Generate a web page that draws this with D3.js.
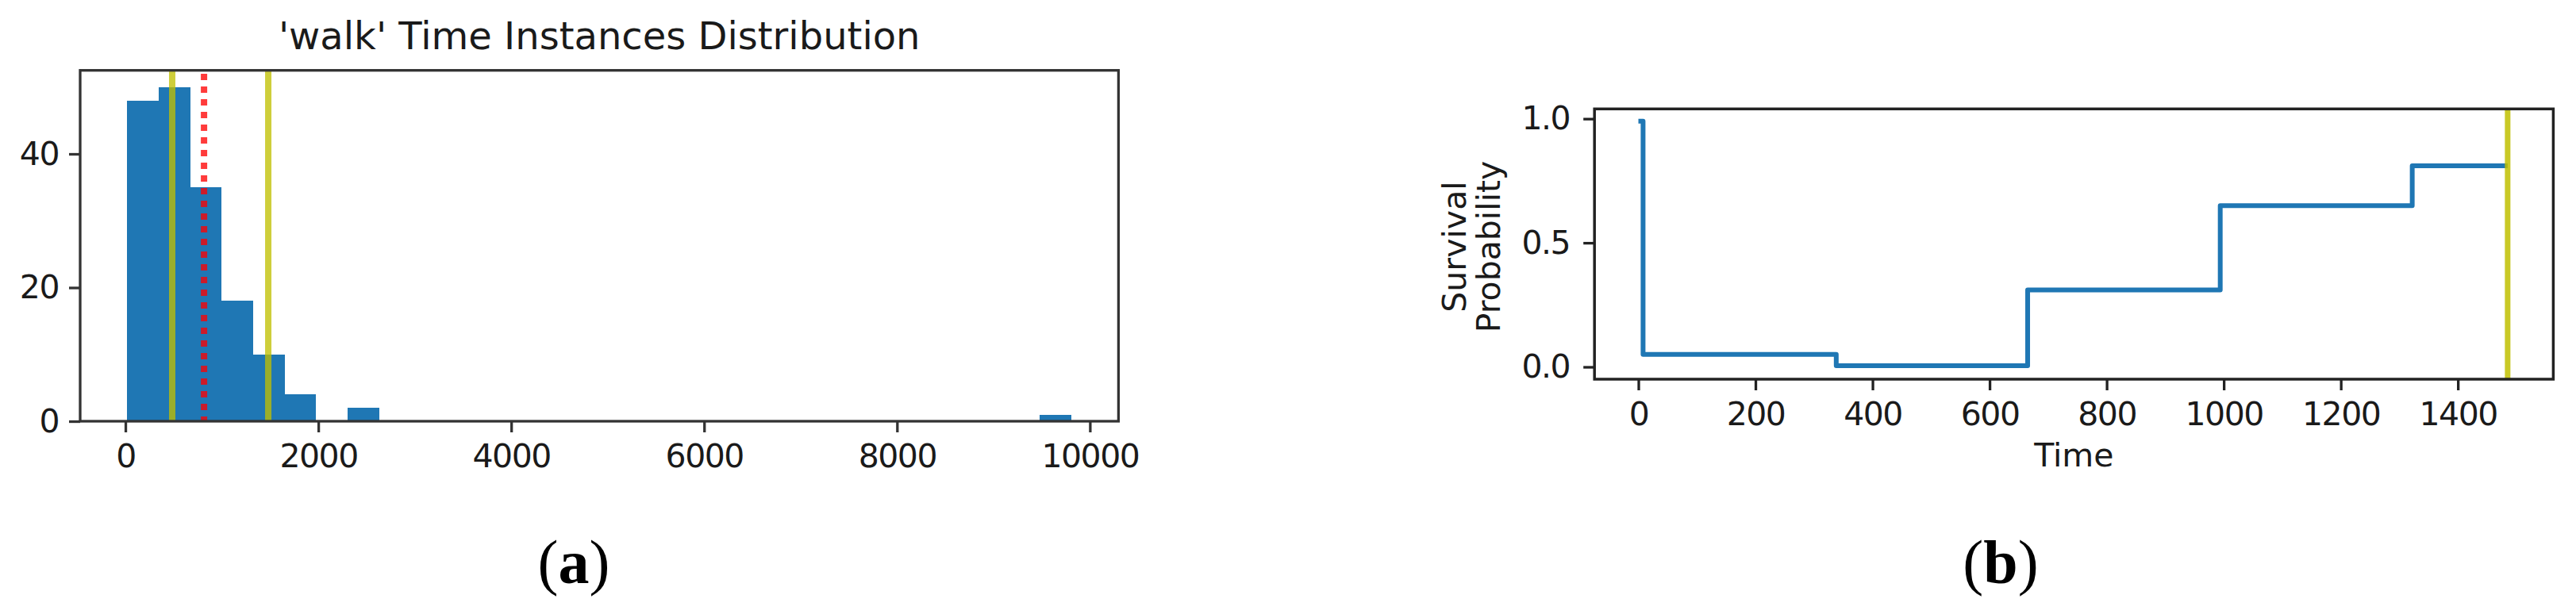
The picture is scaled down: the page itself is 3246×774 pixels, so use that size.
<!DOCTYPE html>
<html><head><meta charset="utf-8">
<script src="https://cdn.jsdelivr.net/npm/d3@7"></script>
<style>html,body{margin:0;padding:0;background:#fff;} svg{display:block;}</style>
</head><body>
<svg id="chart" width="3246" height="774"></svg>
<script>
// ---------- Panel (a): histogram data ----------
const histTitle = "'walk' Time Instances Distribution";
const histRange = [20, 9807];              // first and last bin edge (30 bins)
const histCounts = [48, 50, 35, 18, 10, 4, 0, 2, 0, 0,
                    0, 0, 0, 0, 0, 0, 0, 0, 0, 0,
                    0, 0, 0, 0, 0, 0, 0, 0, 0, 1];
const histXTicks = [0, 2000, 4000, 6000, 8000, 10000];
const histYTicks = [0, 20, 40];
const histSolidLines = [485, 1481];        // yellow vertical lines
const histDottedLines = [815];             // red dotted vertical line

// ---------- Panel (b): survival step data ----------
const survTimes = [0, 8, 338, 665, 994, 1322, 1485];
const survProb  = [0.99, 0.05, 0.005, 0.31, 0.65, 0.81, 0.81];
const survXTicks = [0, 200, 400, 600, 800, 1000, 1200, 1400];
const survYTicks = [0, 0.5, 1.0];
const survMarker = [1485];
const survXLabel = "Time";
const survYLabel = ["Survival", "Probability"];
const captions = ["a", "b"];

const svg = d3.select("#chart");
svg.append("rect").attr("width", 3246).attr("height", 774).attr("fill", "#fff");

const FONT = "DejaVu Sans";
const TICK_FS = 41;
const TEXT_COL = "#1a1a1a";

function styleAxis(g, col, w) {
  g.select(".domain").remove();
  g.selectAll(".tick line").attr("stroke", col).attr("stroke-width", w);
  g.selectAll(".tick text")
    .attr("fill", TEXT_COL)
    .style("font-family", FONT)
    .style("font-size", TICK_FS + "px")
    .style("letter-spacing", "-1.5px");
}

// ================= Panel (a) =================
{
  const A = {x0: 101, x1: 1409.4, y0: 88.7, y1: 531};
  const pad = 0.05 * (histRange[1] - histRange[0]);
  const x = d3.scaleLinear().domain([histRange[0] - pad, histRange[1] + pad]).range([A.x0, A.x1]);
  const y = d3.scaleLinear().domain([0, d3.max(histCounts) * 1.05]).range([A.y1, A.y0]);
  const nb = histCounts.length;
  const edges = d3.range(nb + 1).map(i => histRange[0] + i * (histRange[1] - histRange[0]) / nb);
  const bins = histCounts.map((c, i) => ({x0: edges[i], x1: edges[i + 1], c}));
  const g = svg.append("g");

  g.selectAll("rect.bar").data(bins.filter(b => b.c > 0)).join("rect")
    .attr("class", "bar")
    .attr("x", d => x(d.x0)).attr("width", d => x(d.x1) - x(d.x0))
    .attr("y", d => y(d.c)).attr("height", d => y(0) - y(d.c))
    .attr("fill", "#1f77b4").attr("shape-rendering", "crispEdges");

  g.selectAll("line.solid").data(histSolidLines).join("line")
    .attr("x1", d => x(d)).attr("x2", d => x(d))
    .attr("y1", A.y1).attr("y2", A.y0)
    .attr("stroke", "#bfbf00").attr("stroke-opacity", 0.77).attr("stroke-width", 8);

  g.selectAll("line.dotted").data(histDottedLines).join("line")
    .attr("x1", d => x(d)).attr("x2", d => x(d))
    .attr("y1", A.y1).attr("y2", A.y0)
    .attr("stroke", "#ff0000").attr("stroke-opacity", 0.77).attr("stroke-width", 8)
    .attr("stroke-dasharray", "8 8").attr("stroke-dashoffset", 2);

  const gx = g.append("g").attr("transform", `translate(0,${A.y1})`)
    .call(d3.axisBottom(x).tickValues(histXTicks).tickFormat(d3.format("d")).tickSize(14).tickPadding(15));
  styleAxis(gx, "#333", 3.3);
  const gy = g.append("g").attr("transform", `translate(${A.x0},0)`)
    .call(d3.axisLeft(y).tickValues(histYTicks).tickFormat(d3.format("d")).tickSize(14).tickPadding(13));
  styleAxis(gy, "#333", 3.3);

  g.append("rect").attr("x", A.x0).attr("y", A.y0)
    .attr("width", A.x1 - A.x0).attr("height", A.y1 - A.y0)
    .attr("fill", "none").attr("stroke", "#333").attr("stroke-width", 3.3);

  g.append("text").attr("x", (A.x0 + A.x1) / 2).attr("y", 62)
    .attr("text-anchor", "middle").attr("fill", TEXT_COL)
    .style("font-family", FONT).style("font-size", "48px")
    .text(histTitle);
}

// ================= Panel (b) =================
{
  const B = {x0: 2009.2, x1: 3217.4, y0: 137.3, y1: 478};
  const x = d3.scaleLinear().domain([-75, 1563]).range([B.x0, B.x1]);
  const y = d3.scaleLinear().domain([-0.0495, 1.0395]).range([B.y1, B.y0]);
  const g = svg.append("g");
  const pts = survTimes.map((t, i) => [t, survProb[i]]);

  g.append("path").datum(pts)
    .attr("d", d3.line().x(d => x(d[0])).y(d => y(d[1])).curve(d3.curveStepAfter))
    .attr("fill", "none").attr("stroke", "#1f77b4").attr("stroke-width", 6)
    .attr("stroke-linejoin", "round").attr("stroke-linecap", "butt");

  g.selectAll("line.mark").data(survMarker).join("line")
    .attr("x1", d => x(d)).attr("x2", d => x(d))
    .attr("y1", B.y1).attr("y2", B.y0)
    .attr("stroke", "#bfbf00").attr("stroke-opacity", 0.85).attr("stroke-width", 7);

  const gx = g.append("g").attr("transform", `translate(0,${B.y1})`)
    .call(d3.axisBottom(x).tickValues(survXTicks).tickFormat(d3.format("d")).tickSize(14).tickPadding(15));
  styleAxis(gx, "#222", 3.3);
  const gy = g.append("g").attr("transform", `translate(${B.x0},0)`)
    .call(d3.axisLeft(y).tickValues(survYTicks).tickFormat(d3.format(".1f")).tickSize(14).tickPadding(17));
  styleAxis(gy, "#222", 3.3);

  g.append("rect").attr("x", B.x0).attr("y", B.y0)
    .attr("width", B.x1 - B.x0).attr("height", B.y1 - B.y0)
    .attr("fill", "none").attr("stroke", "#222").attr("stroke-width", 3.5);

  g.append("text").attr("x", (B.x0 + B.x1) / 2).attr("y", 588)
    .attr("text-anchor", "middle").attr("fill", TEXT_COL)
    .style("font-family", FONT).style("font-size", "41px")
    .text(survXLabel);

  const yl = g.append("text").attr("transform", `translate(1847,311) rotate(-90)`)
    .attr("text-anchor", "middle").attr("fill", TEXT_COL)
    .style("font-family", FONT).style("font-size", "41px");
  yl.selectAll("tspan").data(survYLabel).join("tspan")
    .attr("x", 0).attr("dy", (d, i) => i === 0 ? 0 : 43).text(d => d);
}

// ================= Captions =================
const capX = [723, 2521];
svg.selectAll("text.cap").data(captions).join("text")
  .attr("class", "cap")
  .attr("x", (d, i) => capX[i]).attr("y", 735)
  .attr("text-anchor", "middle").attr("fill", "#000")
  .style("font-family", "Liberation Serif").style("font-size", "78px")
  .each(function(d) {
    const t = d3.select(this);
    t.append("tspan").text("(");
    t.append("tspan").style("font-weight", "bold").text(d);
    t.append("tspan").text(")");
  });
</script>
</body></html>
